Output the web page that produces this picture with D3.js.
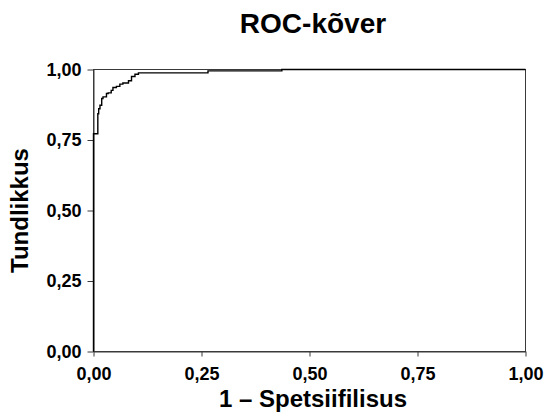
<!DOCTYPE html>
<html>
<head>
<meta charset="utf-8">
<script src="https://cdn.jsdelivr.net/npm/d3@7"></script>
<style>
  body { margin: 0; background: #fff; }
  svg { display: block; font-family: "Liberation Sans", Arial, sans-serif; }
</style>
</head>
<body>
<div id="chart"></div>
<script>
// ROC curve points: 1 - specificity, sensitivity
var fpr = [0, 0, 0.010, 0.010, 0.012, 0.012, 0.015, 0.015, 0.019, 0.019, 0.022, 0.022, 0.030, 0.030,
           0.034, 0.034, 0.041, 0.041, 0.045, 0.045, 0.053, 0.053, 0.061, 0.061, 0.068, 0.068,
           0.081, 0.081, 0.088, 0.088, 0.096, 0.096, 0.104, 0.104, 0.115, 0.265, 0.265, 0.436, 0.436, 1];
var tpr = [0, 0.772, 0.772, 0.843, 0.843, 0.861, 0.861, 0.873, 0.873, 0.897, 0.897, 0.903, 0.903, 0.915,
           0.915, 0.917, 0.917, 0.926, 0.926, 0.936, 0.936, 0.940, 0.940, 0.948, 0.948, 0.952,
           0.952, 0.960, 0.960, 0.975, 0.975, 0.983, 0.983, 0.988, 0.988, 0.988, 0.995, 0.995, 1, 1];
var tickValues = [0, 0.25, 0.5, 0.75, 1];
var title = "ROC-kõver";
var xTitle = "1 – Spetsiifilisus";
var yTitle = "Tundlikkus";

var width = 545;
var height = 417;
var margin = { top: 69.5, right: 19.5, bottom: 65.5, left: 93.5 };

var svg = d3.select("#chart").append("svg")
    .attr("width", width)
    .attr("height", height);

var x = d3.scaleLinear()
    .domain([0, 1])
    .range([margin.left, width - margin.right]);

var y = d3.scaleLinear()
    .domain([0, 1])
    .range([height - margin.bottom, margin.top]);

var fmt = function (d) { return d3.format(".2f")(d).replace(".", ","); };

// frame
svg.append("rect")
    .attr("x", x(0))
    .attr("y", y(1))
    .attr("width", x(1) - x(0))
    .attr("height", y(0) - y(1))
    .attr("fill", "none")
    .attr("stroke", "#3a3a3a")
    .attr("stroke-width", 1);

// x axis
svg.append("g")
    .attr("transform", `translate(0,${y(0)})`)
    .call(d3.axisBottom(x).tickValues(tickValues).tickFormat(fmt).tickSize(5).tickPadding(11).tickSizeOuter(0))
    .call(function (g) { g.select(".domain").attr("stroke", "#3a3a3a"); })
    .call(function (g) { g.selectAll(".tick line").attr("stroke", "#3a3a3a"); })
    .call(function (g) {
        g.selectAll("text")
            .attr("fill", "#000")
            .style("font-size", "18px")
            .style("font-weight", "bold")
            .style("font-family", "'Liberation Sans', Arial, sans-serif");
    });

// y axis
svg.append("g")
    .attr("transform", `translate(${x(0)},0)`)
    .call(d3.axisLeft(y).tickValues(tickValues).tickFormat(fmt).tickSize(6).tickPadding(6).tickSizeOuter(0))
    .call(function (g) { g.select(".domain").attr("stroke", "#3a3a3a"); })
    .call(function (g) { g.selectAll(".tick line").attr("stroke", "#3a3a3a"); })
    .call(function (g) {
        g.selectAll("text")
            .attr("fill", "#000")
            .style("font-size", "18px")
            .style("font-weight", "bold")
            .style("font-family", "'Liberation Sans', Arial, sans-serif");
    });

// ROC curve
var pts = fpr.map(function (d, i) { return [d, tpr[i]]; });
svg.append("path")
    .datum(pts)
    .attr("fill", "none")
    .attr("stroke", "#000")
    .attr("stroke-width", 1.4)
    .attr("d", d3.line().x(function (d) { return x(d[0]); }).y(function (d) { return y(d[1]); }));

// titles
svg.append("text")
    .attr("x", 313)
    .attr("y", 33)
    .attr("text-anchor", "middle")
    .style("font-size", "28px")
    .style("font-weight", "bold")
    .text(title);

svg.append("text")
    .attr("x", 313)
    .attr("y", 407)
    .attr("text-anchor", "middle")
    .style("font-size", "24px")
    .style("font-weight", "bold")
    .text(xTitle);

svg.append("text")
    .attr("transform", `translate(28,${(y(0) + y(1)) / 2}) rotate(-90)`)
    .attr("text-anchor", "middle")
    .style("font-size", "24px")
    .style("font-weight", "bold")
    .text(yTitle);
</script>
</body>
</html>
